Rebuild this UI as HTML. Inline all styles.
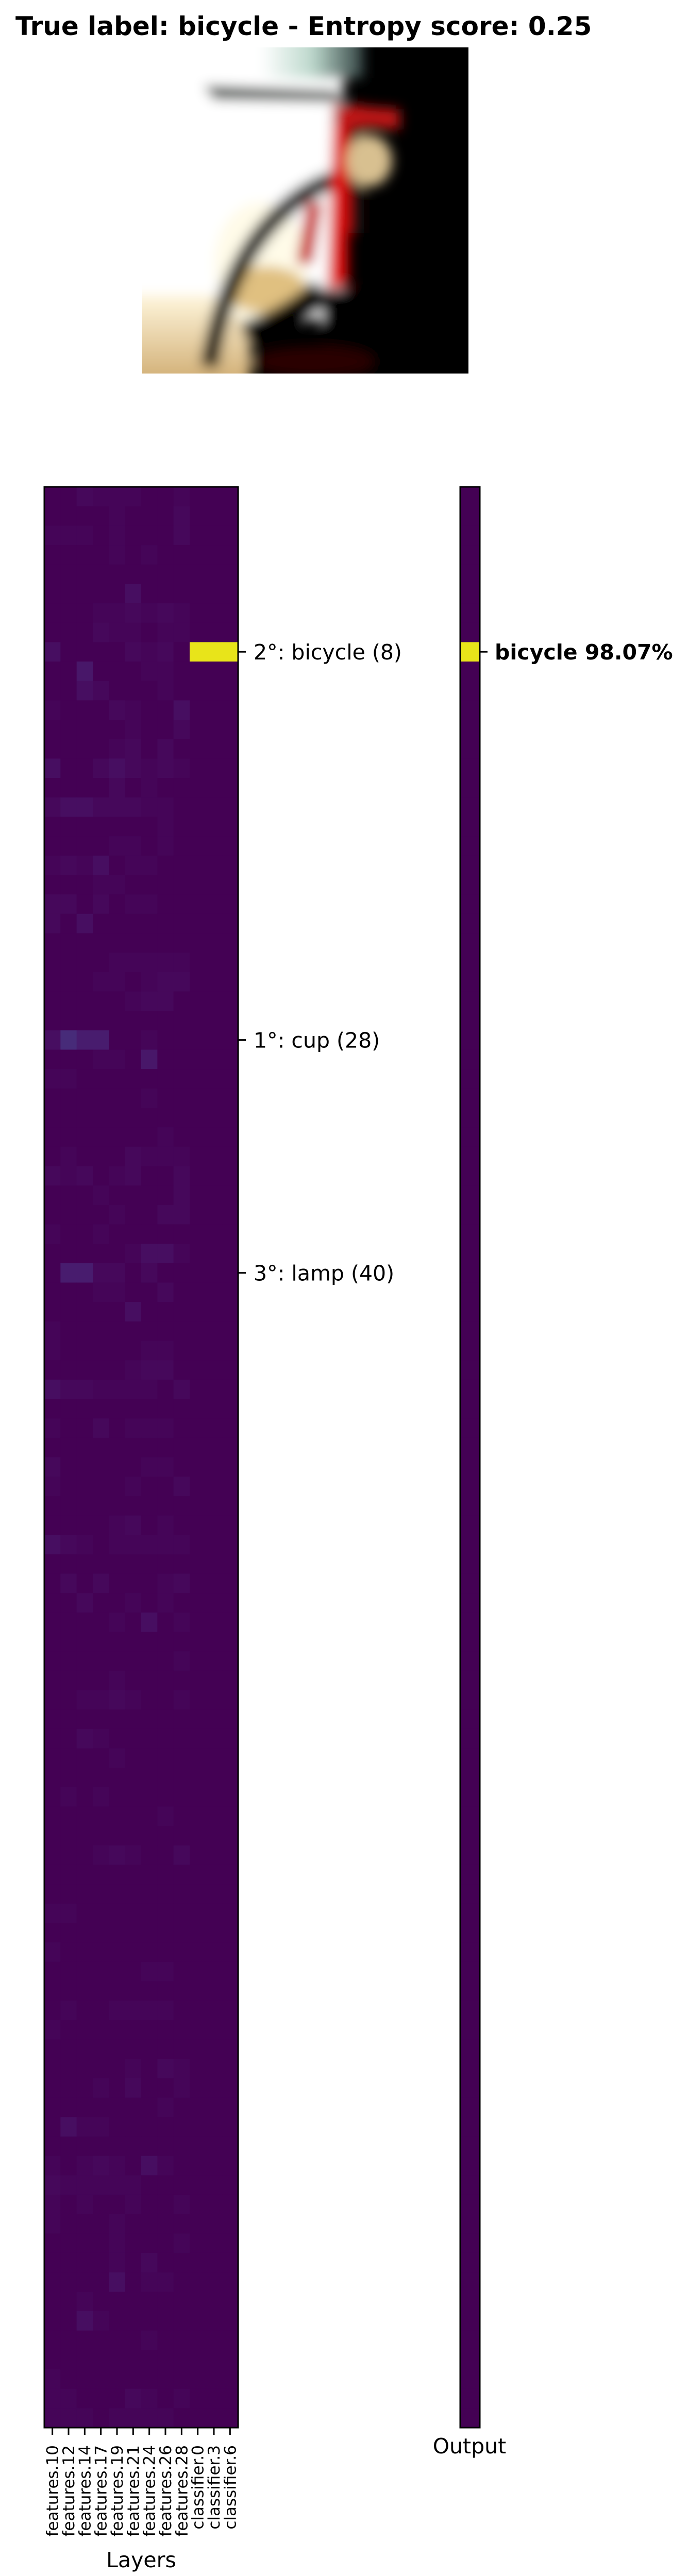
<!DOCTYPE html>
<html><head><meta charset="utf-8">
<style>
html,body{margin:0;padding:0;background:#fff;width:1335px;height:5021px;overflow:hidden;}
svg{display:block;}
text{font-family:"DejaVu Sans","Liberation Sans",sans-serif;fill:#000;}
</style></head>
<body>
<svg id="fig" width="1335" height="5021" viewBox="0 0 1335 5021" xmlns="http://www.w3.org/2000/svg">
<rect width="1335" height="5021" fill="#fff"/>
<text x="30" y="68" font-size="50" font-weight="bold">True label: bicycle - Entropy score: 0.25</text>
<svg x="276" y="92" width="633" height="633" viewBox="0 0 633 633">
<defs>
<filter id="bl" x="-20%" y="-20%" width="140%" height="140%"><feGaussianBlur stdDeviation="12"/></filter>
<clipPath id="cp"><rect width="633" height="633"/></clipPath>
<linearGradient id="tan" x1="0" y1="0" x2="0" y2="1"><stop offset="0" stop-color="#fff6dc"/><stop offset="1" stop-color="#c8a060"/></linearGradient>
<linearGradient id="cap" x1="0" y1="0" x2="1" y2="0"><stop offset="0" stop-color="#ffffff"/><stop offset="0.5" stop-color="#bcd8cc"/><stop offset="1" stop-color="#304040"/></linearGradient>
</defs>
<g clip-path="url(#cp)">
<rect width="633" height="633" fill="#000"/>
<g filter="url(#bl)">
<rect x="-30" y="-30" width="420" height="560" fill="#fff"/>
<rect x="390" y="110" width="40" height="250" fill="#1a0a08"/>
<rect x="-30" y="480" width="240" height="200" fill="url(#tan)"/>
<ellipse cx="230" cy="420" rx="90" ry="120" fill="#fffbe8"/>
<ellipse cx="240" cy="470" rx="80" ry="45" fill="#e0c080"/>
<rect x="230" y="-30" width="200" height="90" fill="url(#cap)"/>
<path d="M120 75 L380 85 L390 105 L140 100 Z" fill="#102018"/>
<path d="M130 620 Q160 430 260 330 Q320 270 380 255" stroke="#050505" stroke-width="34" fill="none"/>
<path d="M200 560 Q300 520 350 470" stroke="#050505" stroke-width="50" fill="none"/>
<rect x="350" y="470" width="120" height="170" fill="#000"/>
<path d="M370 110 L500 120 L500 160 L370 150 Z" fill="#c01818"/>
<path d="M370 150 L400 150 L400 460 L360 470 Z" fill="#e00808"/>
<path d="M320 300 L350 300 L330 420 L300 420 Z" fill="#c81010"/>
<ellipse cx="440" cy="220" rx="45" ry="50" fill="#d8c090"/>
<ellipse cx="330" cy="610" rx="120" ry="30" fill="#2a0500"/>
</g>
</g>
</svg>
<g id="heatmap"></g>
<g id="output"></g>
<text x="274" y="4983" font-size="41" text-anchor="middle">Layers</text>
<text x="911" y="4762" font-size="41" text-anchor="middle">Output</text>
</svg>
<script>
// activation values in percent, 100 rows (classes) x 12 layers
const layers = ["features.10","features.12","features.14","features.17","features.19","features.21","features.24","features.26","features.28","classifier.0","classifier.3","classifier.6"];
const rows = [
[0,0,4,2,2,2,0,0,2,0,0,0],[0,0,0,0,2,0,0,0,4,0,0,0],[2,2,2,0,2,0,0,0,4,0,0,0],[0,0,0,0,2,0,2,0,0,0,0,0],
[0,0,0,0,0,0,0,0,0,0,0,0],[0,0,0,0,0,7,0,0,0,0,0,0],[0,0,0,2,2,4,2,4,2,0,0,0],[0,0,0,4,2,2,0,2,2,0,0,0],
[7,0,0,0,0,4,2,4,0,100,100,100],[0,0,11,0,0,0,2,2,0,0,0,0],[0,0,7,4,0,0,0,2,0,0,0,0],[2,0,0,0,4,2,0,0,7,0,0,0],
[0,0,0,0,0,2,0,0,4,0,0,0],[0,0,0,0,2,4,0,4,0,0,0,0],[7,0,0,4,7,4,2,4,2,0,0,0],[0,0,0,0,4,0,2,0,0,0,0,0],
[4,7,7,4,4,4,2,2,0,0,0,0],[0,0,0,0,0,0,0,2,0,0,0,0],[0,0,0,0,2,2,0,2,0,0,0,0],[2,4,2,7,0,2,2,0,0,0,0,0],
[0,0,0,2,2,0,0,0,0,0,0,0],[4,4,0,4,0,2,2,0,0,0,0,0],[4,0,7,0,0,0,0,0,0,0,0,0],[0,0,0,0,0,0,0,0,0,0,0,0],
[0,0,0,0,2,2,2,2,2,0,0,0],[0,0,0,2,2,0,2,4,4,0,0,0],[0,0,0,0,0,2,4,4,0,0,0,0],[0,0,0,0,0,0,0,0,0,0,0,0],
[7,19,13,13,0,0,2,0,0,0,0,0],[0,0,0,2,2,0,11,0,0,0,0,0],[2,2,0,0,0,0,0,0,0,0,0,0],[0,0,0,0,0,0,2,0,0,0,0,0],
[0,0,0,0,0,0,0,0,0,0,0,0],[0,0,0,0,0,0,0,2,0,0,0,0],[0,2,0,0,0,4,2,2,2,0,0,0],[4,2,4,0,2,4,0,0,4,0,0,0],
[0,0,0,2,0,0,0,0,4,0,0,0],[0,0,0,0,2,0,0,4,4,0,0,0],[2,0,0,2,0,0,0,0,0,0,0,0],[0,0,0,0,0,2,7,7,2,0,0,0],
[0,13,13,4,4,0,4,0,0,0,0,0],[0,0,0,2,2,0,0,4,0,0,0,0],[0,0,0,0,0,7,0,0,0,0,0,0],[2,0,0,0,0,0,0,0,0,0,0,0],
[2,0,0,0,0,0,2,2,0,0,0,0],[0,0,0,0,0,2,4,4,0,0,0,0],[7,4,4,2,2,2,2,0,4,0,0,0],[0,0,0,0,0,0,0,0,0,0,0,0],
[2,0,0,4,0,2,2,2,0,0,0,0],[0,0,0,0,0,0,0,0,0,0,0,0],[4,0,0,0,0,0,2,2,0,0,0,0],[2,0,0,0,0,2,0,0,4,0,0,0],
[0,0,0,0,0,0,0,0,0,0,0,0],[0,0,0,0,2,4,0,2,0,0,0,0],[7,4,2,0,2,2,2,2,2,0,0,0],[0,0,0,0,0,0,0,0,0,0,0,0],
[0,4,0,4,0,0,0,2,4,0,0,0],[0,0,4,0,0,2,0,2,0,0,0,0],[0,0,0,0,2,0,7,0,2,0,0,0],[0,0,0,0,0,0,0,0,0,0,0,0],
[0,0,0,0,0,0,0,0,2,0,0,0],[0,0,0,0,2,0,0,0,0,0,0,0],[0,0,2,2,4,2,0,0,2,0,0,0],[0,0,0,0,0,0,0,0,0,0,0,0],
[0,0,4,2,0,0,0,0,0,0,0,0],[0,0,0,0,2,0,0,0,0,0,0,0],[0,0,0,0,0,0,0,0,0,0,0,0],[0,2,0,2,0,0,0,0,0,0,0,0],
[0,0,0,0,0,0,0,2,0,0,0,0],[0,0,0,0,0,0,0,0,0,0,0,0],[0,0,0,2,4,2,0,0,4,0,0,0],[0,0,0,0,0,0,0,0,0,0,0,0],
[0,0,0,0,0,0,0,0,0,0,0,0],[2,2,0,0,0,0,0,0,0,0,0,0],[0,0,0,0,0,0,0,0,0,0,0,0],[2,0,0,0,0,0,0,0,0,0,0,0],
[0,0,0,0,0,0,2,2,0,0,0,0],[0,0,0,0,0,0,0,0,0,0,0,0],[0,2,0,0,2,2,2,2,0,0,0,0],[2,0,0,0,0,0,0,0,0,0,0,0],
[0,0,0,0,0,0,0,0,0,0,0,0],[0,0,0,0,0,2,0,4,2,0,0,0],[0,0,0,2,0,4,0,0,2,0,0,0],[0,0,0,0,0,0,0,2,0,0,0,0],
[0,7,2,2,0,0,0,0,0,0,0,0],[0,0,0,0,0,0,0,0,0,0,0,0],[2,0,2,4,2,0,7,2,0,0,0,0],[4,2,2,2,2,2,0,0,0,0,0,0],
[2,0,2,0,0,2,0,0,2,0,0,0],[2,0,0,0,2,0,0,0,0,0,0,0],[0,0,0,0,2,0,0,0,2,0,0,0],[0,0,0,0,2,0,4,0,0,0,0,0],
[0,0,0,0,7,0,2,2,0,0,0,0],[0,0,2,0,0,0,0,0,0,0,0,0],[0,0,7,2,0,0,0,0,0,0,0,0],[0,0,0,0,0,0,2,0,0,0,0,0],
[0,0,0,0,0,0,0,0,0,0,0,0],[2,0,0,0,0,0,0,0,0,0,0,0],[2,2,0,0,0,4,2,0,2,0,0,0],[2,2,2,0,2,2,2,2,0,0,0,0]
];
const outputValues = new Array(100).fill(0.02);
outputValues[8] = 98.07;
const tickRows = [8, 28, 40];
const tickLabels = ["2°: bicycle (8)", "1°: cup (28)", "3°: lamp (40)"];
const outputTickRows = [8];
const outputTickLabels = ["bicycle 98.07%"];

const NS = "http://www.w3.org/2000/svg";
const HX0 = 86, HX1 = 462, HY0 = 945, HY1 = 4712;
const OX0 = 893, OX1 = 931;
const nR = rows.length, nC = layers.length;
const xCol = c => HX0 + (HX1 - HX0) * c / nC;
const yRow = r => HY0 + (HY1 - HY0) * r / nR;
const stops = [[0,[68,1,84]],[0.05,[70,10,93]],[0.1,[72,20,103]],[0.15,[72,33,115]],[0.2,[71,45,123]],[0.25,[69,55,129]],[0.3,[65,68,135]],[0.4,[57,86,140]],[0.5,[42,120,142]],[0.6,[34,141,141]],[0.7,[53,183,121]],[0.8,[110,206,88]],[0.9,[180,222,44]],[1,[232,228,26]]];
function viridis(v){
  v = Math.max(0, Math.min(1, v));
  for (let i = 1; i < stops.length; i++) {
    if (v <= stops[i][0]) {
      const [a, ca] = stops[i-1], [b, cb] = stops[i];
      const t = (v - a) / (b - a);
      return "rgb(" + ca.map((x, k) => Math.round(x + (cb[k] - x) * t)).join(",") + ")";
    }
  }
  return "rgb(253,231,37)";
}
function mk(tag, attrs, parent){
  const e = document.createElementNS(NS, tag);
  for (const k in attrs) e.setAttribute(k, attrs[k]);
  parent.appendChild(e);
  return e;
}
const hm = document.getElementById("heatmap");
for (let r = 0; r < nR; r++) {
  for (let c = 0; c < nC; c++) {
    const cell = mk("rect", {x: xCol(c), y: yRow(r), width: xCol(c+1) - xCol(c) + 0.6, height: yRow(r+1) - yRow(r) + 0.6, fill: viridis(rows[r][c] / 100)}, hm);
    
    
  }
}
const frame = mk("rect", {x: HX0, y: HY0, width: HX1 - HX0, height: HY1 - HY0, fill: "none", stroke: "#000", "stroke-width": 3}, hm);


tickRows.forEach((r, i) => {
  const yc = (yRow(r) + yRow(r+1)) / 2;
  const t = mk("line", {x1: HX1, x2: HX1 + 15, y1: yc, y2: yc, stroke: "#000", "stroke-width": 3}, hm);
  
  
  const tx = mk("text", {x: HX1 + 30, y: yc + 15, "font-size": 41}, hm);
  tx.textContent = tickLabels[i];
  
  
});
layers.forEach((name, c) => {
  const xc = (xCol(c) + xCol(c+1)) / 2;
  const t = mk("line", {x1: xc, x2: xc, y1: HY1, y2: HY1 + 14, stroke: "#000", "stroke-width": 3}, hm);
  
  
  const tx = mk("text", {x: 0, y: 0, "font-size": 31, "text-anchor": "end", transform: "translate(" + (xc + 11) + "," + (HY1 + 34) + ") rotate(-90)"}, hm);
  tx.textContent = name;
  
  
});
const og = document.getElementById("output");
const maxOut = Math.max(...outputValues);
outputValues.forEach((v, r) => {
  const cell = mk("rect", {x: OX0, y: yRow(r), width: OX1 - OX0, height: yRow(r+1) - yRow(r) + 0.6, fill: viridis(v / maxOut)}, og);
  
  
});
const of = mk("rect", {x: OX0, y: HY0, width: OX1 - OX0, height: HY1 - HY0, fill: "none", stroke: "#000", "stroke-width": 3}, og);


outputTickRows.forEach((r, i) => {
  const yc = (yRow(r) + yRow(r+1)) / 2;
  const t = mk("line", {x1: OX1, x2: OX1 + 15, y1: yc, y2: yc, stroke: "#000", "stroke-width": 3}, og);
  
  
  const tx = mk("text", {x: OX1 + 29, y: yc + 15, "font-size": 41, "font-weight": "bold"}, og);
  tx.textContent = outputTickLabels[i];
  
  
});
</script>
</body></html>
